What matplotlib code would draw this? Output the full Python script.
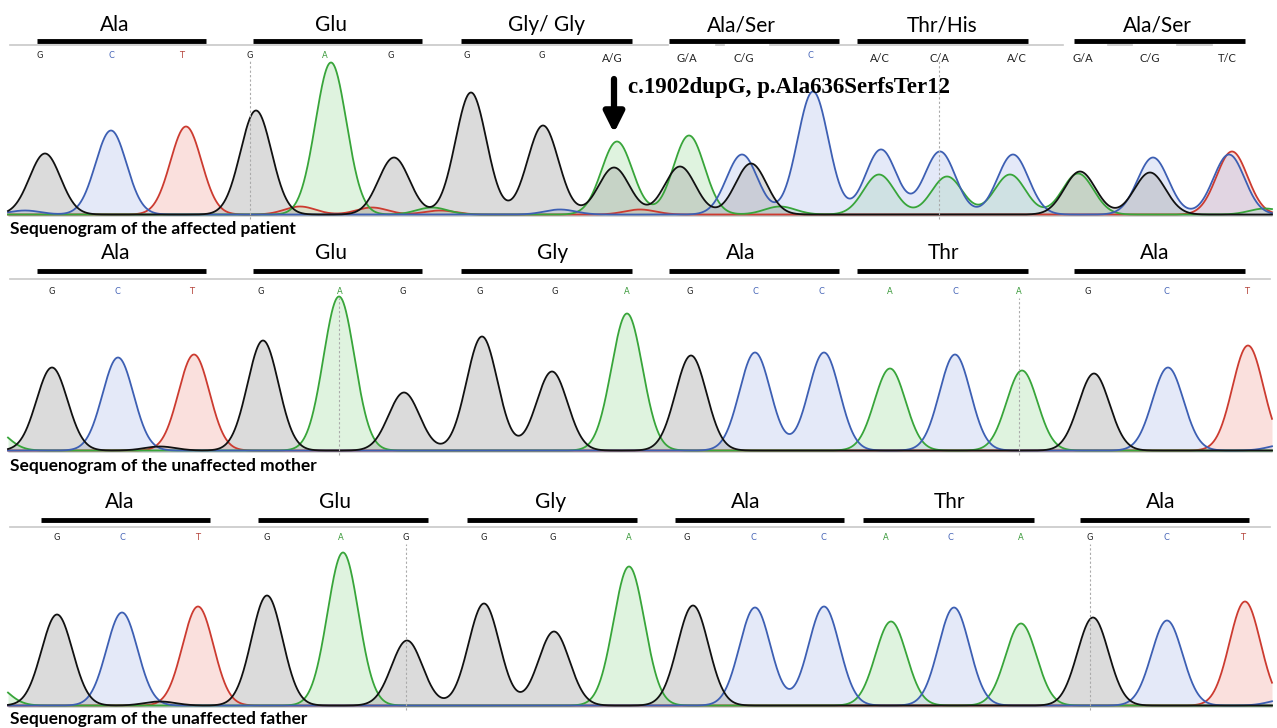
import matplotlib
matplotlib.use('Agg')
import matplotlib.pyplot as plt
import numpy as np

W, H = 1277, 728
LABEL_FONT = 'Lato'

# trace colours (line, fill)
TRACE = {'G': ('#111111', '#9a9a9a'),
         'C': ('#3d5fb3', '#b3c2ec'),
         'T': ('#cc3b30', '#f2a79e'),
         'A': ('#38a53a', '#a6dfa6')}
LETTER = {'G': '#222222', 'C': '#4866b8', 'T': '#b5433a', 'A': '#3a9a3a'}

SIGMA = 15.5

# ---------------- panel 1: affected patient ----------------
p1_aa = ['Ala', 'Glu', 'Gly/ Gly', 'Ala/Ser', 'Thr/His', 'Ala/Ser']
p1_aa_x = [115, 331, 547, 741, 942, 1157]
p1_bars = [(37, 206), (253, 422), (461, 632), (669, 839), (857, 1028), (1074, 1245)]
p1_bases = ['G', 'C', 'T', 'G', 'A', 'G', 'G', 'G', 'A/G',
            'G/A', 'C/G', 'C', 'A/C', 'C/A', 'A/C', 'G/A', 'C/G', 'T/C']
p1_base_x = [40, 111, 182, 250, 325, 391, 467, 542, 612,
             687, 744, 810, 880, 939, 1017, 1083, 1150, 1227]
# peaks: channel, position, height
p1_ch = ['G', 'C', 'T', 'G', 'A', 'G', 'G', 'G', 'A', 'G', 'A', 'G', 'C', 'G', 'C',
         'C', 'A', 'C', 'A', 'C', 'A', 'G', 'A', 'C', 'G', 'T', 'C',
         'T', 'T', 'A', 'T', 'C', 'T', 'A', 'C', 'A']
p1_pos = [45, 111, 186, 256, 331, 394, 471, 543, 617, 614, 689, 680, 742, 751, 813,
          881, 879, 940, 947, 1013, 1010, 1080, 1078, 1153, 1150, 1232, 1229,
          300, 372, 432, 440, 560, 640, 780, 25, 1265]
p1_h = [61, 84, 88, 104, 152, 57, 122, 89, 73, 47, 79, 48, 60, 51, 123,
        65, 40, 63, 38, 60, 40, 43, 41, 57, 42, 63, 60,
        8, 7, 7, 4, 5, 5, 8, 4, 6]

# ---------------- panel 2: unaffected mother ----------------
p2_aa = ['Ala', 'Glu', 'Gly', 'Ala', 'Thr', 'Ala']
p2_aa_x = [116, 331, 553, 741, 943, 1155]
p2_bars = p1_bars
p2_bases = ['G', 'C', 'T', 'G', 'A', 'G', 'G', 'G', 'A',
            'G', 'C', 'C', 'A', 'C', 'A', 'G', 'C', 'T']
p2_base_x = [52, 117, 192, 261, 340, 403, 480, 555, 627,
             690, 755, 821, 890, 955, 1019, 1088, 1166, 1247]
p2_ch = ['G', 'C', 'T', 'G', 'A', 'G', 'G', 'G', 'A',
         'G', 'C', 'C', 'A', 'C', 'A', 'G', 'C', 'T', 'A', 'C', 'G']
p2_pos = [52, 118, 194, 263, 339, 404, 482, 552, 627,
          691, 755, 824, 890, 955, 1022, 1094, 1168, 1248, -8, 1285, 160]
p2_h = [83, 93, 96, 110, 154, 58, 114, 79, 137,
        95, 98, 98, 82, 96, 80, 77, 83, 105, 22, 6, 4]

# ---------------- panel 3: unaffected father ----------------
p3_aa = ['Ala', 'Glu', 'Gly', 'Ala', 'Thr', 'Ala']
p3_aa_x = [120, 335, 551, 746, 949, 1161]
p3_bars = [(41, 210), (258, 428), (467, 637), (675, 844), (863, 1034), (1080, 1249)]
p3_bases = p2_bases
p3_base_x = [57, 122, 198, 267, 341, 406, 484, 553, 629,
             687, 753, 823, 886, 950, 1021, 1090, 1166, 1243]
p3_ch = p2_ch
p3_pos = [57, 122, 198, 267, 343, 407, 484, 554, 629,
          693, 755, 824, 891, 954, 1021, 1093, 1167, 1245, -8, 1285, 160]
p3_h = [91, 93, 99, 110, 153, 65, 102, 74, 139,
        100, 98, 99, 84, 98, 82, 88, 85, 104, 22, 6, 4]

panels = [
    dict(aa=p1_aa, aa_x=p1_aa_x, bars=p1_bars, bases=p1_bases, base_x=p1_base_x,
         ch=p1_ch, pos=p1_pos, h=p1_h, top=0, base=216, bottom=240,
         aa_y=191, bar_y=175, grey_y=171, base_y=161,
         grey_segs=[(10, 668), (716, 724), (770, 1063), (1108, 1132), (1177, 1212)],
         vlines=[250, 939], caption='Sequenogram of the affected patient', cap_y=-13),
    dict(aa=p2_aa, aa_x=p2_aa_x, bars=p2_bars, bases=p2_bases, base_x=p2_base_x,
         ch=p2_ch, pos=p2_pos, h=p2_h, top=240, base=452, bottom=478,
         aa_y=199, bar_y=181, grey_y=173, base_y=160,
         grey_segs=[(10, 1270)], vlines=[339, 1019],
         caption='Sequenogram of the unaffected mother', cap_y=-14),
    dict(aa=p3_aa, aa_x=p3_aa_x, bars=p3_bars, bases=p3_bases, base_x=p3_base_x,
         ch=p3_ch, pos=p3_pos, h=p3_h, top=478, base=707, bottom=728,
         aa_y=205, bar_y=187, grey_y=180, base_y=169,
         grey_segs=[(10, 1270)], vlines=[406, 1090],
         caption='Sequenogram of the unaffected father', cap_y=-12),
]

fig = plt.figure(figsize=(W / 100, H / 100), dpi=100)
x = np.linspace(8, 1272, 3000)

for i, p in enumerate(panels):
    ax = fig.add_axes([0, 1 - p['bottom'] / H, 1, (p['bottom'] - p['top']) / H])
    ax.set_xlim(0, W)
    ax.set_ylim(p['base'] - p['bottom'], p['base'] - p['top'])
    ax.axis('off')

    # one trace per channel, sum of gaussian peaks
    traces = {}
    for c, x0, hh in zip(p['ch'], p['pos'], p['h']):
        traces.setdefault(c, np.zeros_like(x))
        traces[c] += hh * np.exp(-(x - x0) ** 2 / (2 * SIGMA ** 2))
    for c in ['T', 'A', 'C', 'G']:
        y = traces[c] + 1.5
        ax.fill_between(x, 0, y, color=TRACE[c][1], alpha=0.35, lw=0)
    for c in ['T', 'A', 'C', 'G']:
        ax.plot(x, traces[c] + 1.5, color=TRACE[c][0], lw=1.3)

    # guides at called positions
    for vx in p['vlines']:
        ax.plot([vx, vx], [-3, p['base_y'] - 6], color='#aaaaaa', lw=0.8, ls=(0, (2, 2)))

    # grey ruler line, codon bars and labels
    for a, b in p['grey_segs']:
        ax.plot([a, b], [p['grey_y'], p['grey_y']], color='#c8c8c8', lw=1.2)
    for (a, b), name, ax_x in zip(p['bars'], p['aa'], p['aa_x']):
        ax.plot([a, b], [p['bar_y'], p['bar_y']], color='black', lw=3.5, solid_capstyle='butt')
        ax.text(ax_x, p['aa_y'], name, ha='center', va='center', fontsize=15,
                family=LABEL_FONT)
    for b, bx in zip(p['bases'], p['base_x']):
        if '/' in b:
            ax.text(bx, p['base_y'] - 4, b, ha='center', va='center', fontsize=8,
                    family=LABEL_FONT, color='#222222')
        else:
            ax.text(bx, p['base_y'], b, ha='center', va='center', fontsize=6,
                    family='DejaVu Sans', color=LETTER[b])

    ax.text(10, p['cap_y'], p['caption'], ha='left', va='center', fontsize=12.5,
            fontweight='bold', family=LABEL_FONT)

    if i == 0:
        ax.annotate('', xy=(614, 83), xytext=(614, 137),
                    arrowprops=dict(arrowstyle='-|>', lw=4.5, color='black',
                                    mutation_scale=30, shrinkA=0, shrinkB=0))
        ax.text(628, 129, 'c.1902dupG, p.Ala636SerfsTer12', ha='left', va='center',
                fontsize=16.5, fontweight='bold', family='Liberation Serif')

fig.savefig('out.png', dpi=100)
